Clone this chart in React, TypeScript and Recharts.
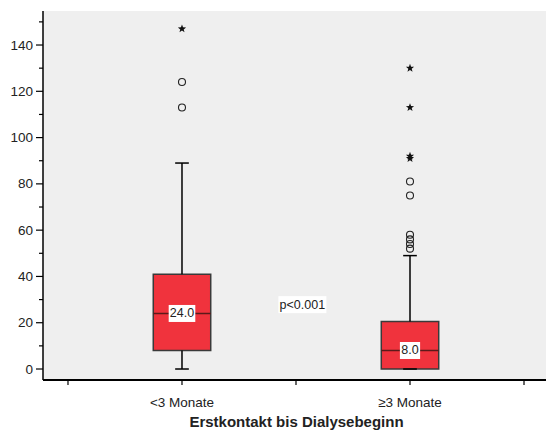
import { ComposedChart, XAxis, YAxis, CartesianGrid, ReferenceArea, ReferenceLine, Scatter } from 'recharts'

const categories = ['<3 Monate', '≥3 Monate']
const positions = [1, 2]
const minVals = [0, 0]
const q1Vals = [8, 0]
const medianVals = [24, 8]
const q3Vals = [41, 20.5]
const maxVals = [89, 49]
const circleOutliers = [
  [124, 113],
  [81, 75, 58, 56, 54, 52],
]
const extremeOutliers = [[147], [130, 113, 92, 91]]
const yTicks = [0, 10, 20, 30, 40, 50, 60, 70, 80, 90, 100, 110, 120, 130, 140, 150]
const xTicks = [0.5, 1, 1.5, 2, 2.5]
const pLabel = 'p<0.001'
const pPos = { x: 1.528, y: 27.8 }
const xTitle = 'Erstkontakt bis Dialysebeginn'

const FONT = "'Liberation Sans', Arial, sans-serif"
const BOX_HALF = 0.126
const CAP_HALF = 0.03

const circleData = circleOutliers.flatMap((vals, i) => vals.map((v) => ({ x: positions[i], y: v })))
const extremeData = extremeOutliers.flatMap((vals, i) => vals.map((v) => ({ x: positions[i], y: v })))

function YTick(props: any) {
  const { x, y, payload } = props
  const major = payload.value % 20 === 0
  return (
    <g>
      <line x1={x - (major ? 7 : 4)} x2={x} y1={y} y2={y} stroke="#000" strokeWidth={1.2} />
      {major && (
        <text x={x - 10} y={y} textAnchor="end" dominantBaseline="central" fontSize={13.5} fontFamily={FONT} fill="#222">
          {payload.value}
        </text>
      )}
    </g>
  )
}

function XTick(props: any) {
  const { x, y, payload } = props
  const idx = positions.indexOf(payload.value)
  return (
    <g>
      <line x1={x} x2={x} y1={y} y2={y + 5} stroke="#000" strokeWidth={1.2} />
      {idx >= 0 && (
        <text x={x} y={y + 26.5} textAnchor="middle" fontSize={13.5} fontFamily={FONT} fill="#222">
          {categories[idx]}
        </text>
      )}
    </g>
  )
}

function CircleShape(props: any) {
  const { cx, cy } = props
  return <circle cx={cx} cy={cy} r={3.5} fill="none" stroke="#222" strokeWidth={1.1} />
}

function StarShape(props: any) {
  const { cx, cy } = props
  const pts: string[] = []
  for (let i = 0; i < 10; i++) {
    const r = i % 2 === 0 ? 4.3 : 1.8
    const a = -Math.PI / 2 + (i * Math.PI) / 5
    pts.push(`${cx + r * Math.cos(a)},${cy + r * Math.sin(a)}`)
  }
  return <polygon points={pts.join(' ')} fill="#111" />
}

function PShape(props: any) {
  const { cx, cy } = props
  return (
    <g>
      <rect x={cx - 24} y={cy - 8.5} width={48} height={17} fill="#fff" />
      <text x={cx} y={cy} textAnchor="middle" dominantBaseline="central" fontSize={12.5} fontFamily={FONT} fill="#222">
        {pLabel}
      </text>
    </g>
  )
}

function medianLabel(text: string) {
  return (p: any) => {
    const vb = p.viewBox || {}
    const cx = vb.x + vb.width / 2
    const cy = vb.y
    const w = text.length * 6.4 + 1
    return (
      <g>
        <rect x={cx - w / 2} y={cy - 8.5} width={w} height={17} fill="#fff" />
        <text x={cx} y={cy} textAnchor="middle" dominantBaseline="central" fontSize={12.5} fontFamily={FONT} fill="#222">
          {text}
        </text>
      </g>
    )
  }
}

export default function App() {
  return (
    <div style={{ position: 'absolute', left: 0, top: 0, width: 546, height: 430, overflow: 'hidden', background: '#fff' }}>
      <ComposedChart width={550} height={430} margin={{ top: 11, right: 0, bottom: 0, left: 0 }}>
        <CartesianGrid fill="#efefef" horizontal={false} vertical={false} />
        <XAxis
          type="number"
          dataKey="x"
          domain={[0.3904, 2.614]}
          allowDataOverflow
          ticks={xTicks}
          interval={0}
          height={50}
          tickSize={0}
          tickMargin={0}
          tick={<XTick />}
          axisLine={{ stroke: '#000', strokeWidth: 2 }}
          label={{
            content: (p: any) => {
              const vb = p.viewBox || {}
              return (
                <text x={vb.x + vb.width / 2} y={vb.y + 47} textAnchor="middle" fontSize={15} fontWeight="bold" fontFamily={FONT} fill="#222">
                  {xTitle}
                </text>
              )
            },
          }}
        />
        <YAxis
          type="number"
          dataKey="y"
          domain={[-4.75, 154.7]}
          allowDataOverflow
          ticks={yTicks}
          interval={0}
          width={43}
          tickSize={0}
          tickMargin={0}
          tick={<YTick />}
          axisLine={{ stroke: '#000', strokeWidth: 1.5 }}
        />
        {positions.map((p, i) => (
          <ReferenceLine
            key={`wu${i}`}
            segment={[{ x: p, y: q3Vals[i] }, { x: p, y: maxVals[i] }]}
            stroke="#000"
            strokeWidth={1.5}
          />
        ))}
        {positions.map((p, i) => (
          <ReferenceLine
            key={`wl${i}`}
            segment={[{ x: p, y: minVals[i] }, { x: p, y: q1Vals[i] }]}
            stroke="#000"
            strokeWidth={1.5}
          />
        ))}
        {positions.map((p, i) => (
          <ReferenceLine
            key={`cu${i}`}
            segment={[{ x: p - CAP_HALF, y: maxVals[i] }, { x: p + CAP_HALF, y: maxVals[i] }]}
            stroke="#000"
            strokeWidth={1.5}
          />
        ))}
        {positions.map((p, i) => (
          <ReferenceLine
            key={`cl${i}`}
            segment={[{ x: p - CAP_HALF, y: minVals[i] }, { x: p + CAP_HALF, y: minVals[i] }]}
            stroke="#000"
            strokeWidth={1.5}
          />
        ))}
        {positions.map((p, i) => (
          <ReferenceArea
            key={`box${i}`}
            x1={p - BOX_HALF}
            x2={p + BOX_HALF}
            y1={q1Vals[i]}
            y2={q3Vals[i]}
            fill="#f0333d"
            fillOpacity={1}
            stroke="#3a3a3a"
            strokeWidth={1.5}
          />
        ))}
        {positions.map((p, i) => (
          <ReferenceLine
            key={`med${i}`}
            segment={[{ x: p - BOX_HALF, y: medianVals[i] }, { x: p + BOX_HALF, y: medianVals[i] }]}
            stroke="#5c1a1a"
            strokeWidth={1.5}
            label={{ content: medianLabel(medianVals[i].toFixed(1)) }}
          />
        ))}
        <Scatter data={circleData} dataKey="y" shape={<CircleShape />} isAnimationActive={false} />
        <Scatter data={extremeData} dataKey="y" shape={<StarShape />} isAnimationActive={false} />
        <Scatter data={[pPos]} dataKey="y" shape={<PShape />} isAnimationActive={false} />
      </ComposedChart>
    </div>
  )
}
